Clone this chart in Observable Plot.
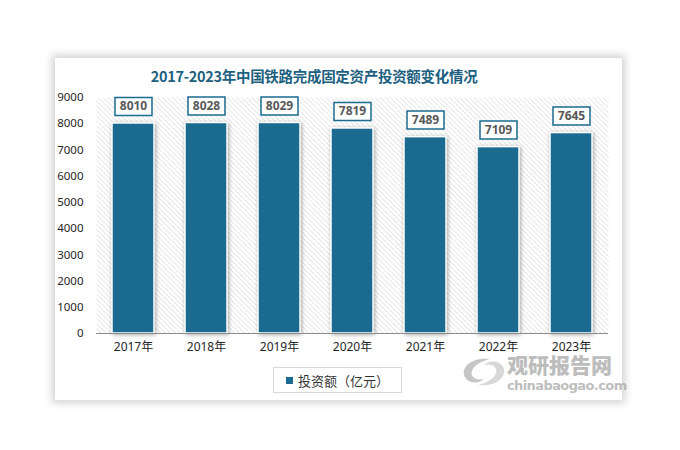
<!DOCTYPE html>
<html><head><meta charset="utf-8">
<script src="https://cdn.jsdelivr.net/npm/d3@7"></script>
<script src="https://cdn.jsdelivr.net/npm/@observablehq/plot@0.6"></script>
<style>
body{margin:0;background:#fff;width:680px;height:450px;position:relative;overflow:hidden;font-family:"Noto Sans CJK SC","Microsoft YaHei",sans-serif;}
#card{position:absolute;left:55px;top:58px;width:567px;height:342px;background:#fff;box-shadow:0 0 8px 3px rgba(0,0,0,0.18);}
#chart{position:absolute;left:0;top:0;}
#title{position:absolute;left:0;width:628px;top:65px;text-align:center;font-size:14.5px;font-weight:bold;color:#1d5f7f;letter-spacing:-0.3px;line-height:22px;}
#legend{position:absolute;left:273px;top:367px;width:129px;height:26px;border:1px solid #d9d9d9;box-sizing:border-box;font-size:13px;color:#333;display:flex;align-items:center;justify-content:center;}
#legend span.sw{display:inline-block;width:7px;height:7px;background:#1b6a8f;margin-right:5px;}
#wm{position:absolute;left:460px;top:353px;width:160px;height:45px;pointer-events:none;}
#wm .a{position:absolute;left:47px;top:0px;font-size:21px;font-weight:900;line-height:22px;color:rgba(150,150,150,0.65);}
#wm .b{position:absolute;left:47px;top:26px;font-size:13px;font-weight:bold;line-height:13px;color:rgba(160,160,160,0.7);font-family:"DejaVu Sans",sans-serif;letter-spacing:-0.6px;}
#wm svg{position:absolute;left:0;top:2px;}
</style></head>
<body>
<div id="card"></div>
<div id="chart"></div>
<div id="title">2017-2023年中国铁路完成固定资产投资额变化情况</div>
<div id="legend"><span class="sw"></span>投资额（亿元）</div>
<div id="wm">
<svg width="48" height="34" viewBox="0 0 48 34"><path d="M30 4 C14 2 2 10 4 20 C6 28 18 30 24 24 C16 26 10 22 12 16 C14 10 22 6 30 4 Z" fill="rgba(160,160,160,0.6)"/><path d="M18 30 C34 32 46 24 44 14 C42 6 30 4 24 10 C32 8 38 12 36 18 C34 24 26 28 18 30 Z" fill="rgba(190,190,190,0.6)"/></svg>
<div class="a">观研报告网</div><div class="b">chinabaogao.com</div></div>
<script>
const years = ["2017年","2018年","2019年","2020年","2021年","2022年","2023年"];
const values = [8010, 8028, 8029, 7819, 7489, 7109, 7645];
const yTicks = [0,1000,2000,3000,4000,5000,6000,7000,8000,9000];
const data = years.map((y,i)=>({year:y, value:values[i]}));
const barColor = "#1b6a8f";
const boxSymbol = {draw(ctx){ ctx.rect(-18.5,-9,37,18); }};

const plot = Plot.plot({
  width:680, height:450,
  marginLeft:96, marginRight:72, marginTop:97, marginBottom:117,
  style:{background:"transparent", fontFamily:"'Noto Sans', 'Noto Sans CJK SC', sans-serif", fontSize:"11.5px", color:"#262626"},
  x:{domain:years, paddingInner:0.43, paddingOuter:0.215, label:null, tickSize:0, tickPadding:9},
  y:{domain:[0,9000], ticks:yTicks, label:null, tickSize:0, tickPadding:13, tickFormat:d=>String(d)},
  marks:[
    Plot.frame({fill:"url(#hatch)", stroke:null}),
    Plot.barY(data,{x:"year", y:"value", fill:barColor, stroke:"#fff", strokeWidth:1.5}),
    Plot.ruleY([0],{stroke:"#8c8c8c", strokeWidth:1.2}),
    Plot.dot(data,{x:"year", y:"value", symbol:boxSymbol, r:5, dy:-17, fill:"#fff", stroke:barColor, strokeWidth:1.5}),
    Plot.text(data,{x:"year", y:"value", text:d=>String(d.value), dy:-17, fill:"#595959", fontWeight:"bold", fontSize:12})
  ]
});
const svg = d3.select(plot);
const defs = svg.insert("defs",":first-child");
const pat = defs.append("pattern").attr("id","hatch").attr("patternUnits","userSpaceOnUse").attr("width",3.5).attr("height",3.5).attr("patternTransform","rotate(-45)");
pat.append("rect").attr("width",3.5).attr("height",3.5).attr("fill","#fff");
pat.append("line").attr("x1",0).attr("y1",0).attr("x2",0).attr("y2",3.5).attr("stroke","#d4d4d4").attr("stroke-width",1.1);
svg.selectAll("[aria-label='bar'] rect").style("filter","drop-shadow(1px 1px 2px rgba(0,0,0,0.35))");
svg.selectAll("[aria-label='x-axis tick label'] text").style("font-size","12px");
document.getElementById("chart").appendChild(plot);
</script>
</body></html>
